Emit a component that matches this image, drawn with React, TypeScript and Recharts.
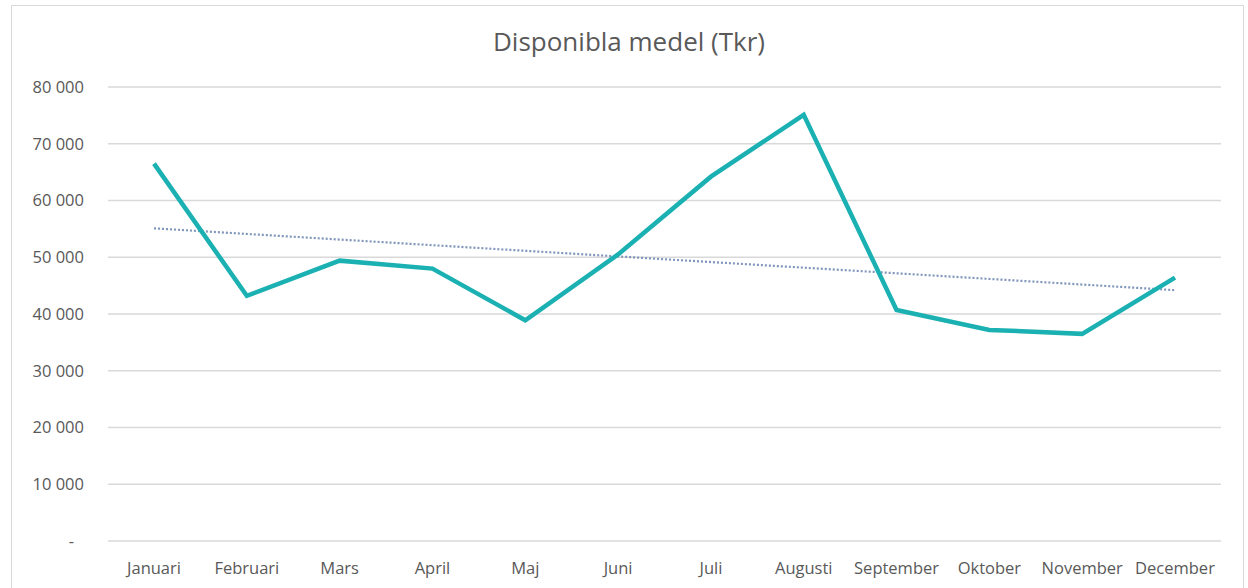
import { LineChart, Line, XAxis, YAxis, CartesianGrid, ReferenceLine } from 'recharts';

const months = [
  'Januari', 'Februari', 'Mars', 'April', 'Maj', 'Juni',
  'Juli', 'Augusti', 'September', 'Oktober', 'November', 'December',
];
const disponibla = [66500, 43200, 49400, 48000, 38900, 50500, 64200, 75100, 40700, 37200, 36500, 46400];
const yTicks = [0, 10000, 20000, 30000, 40000, 50000, 60000, 70000, 80000];
// trendline end points
const trendStart = 55100;
const trendEnd = 44200;

const data = months.map((m, i) => ({ name: m, value: disponibla[i] }));

const FONT = '"Open Sans", sans-serif';
const TEXT = '#595959';

const fmt = (v: number) => (v === 0 ? '-' : String(v).replace(/\B(?=(\d{3})+(?!\d))/g, ' '));

function YTick(props: any) {
  const { x, y, payload } = props;
  const isZero = payload.value === 0;
  return (
    <text x={isZero ? x - 10 : x} y={y} dy="0.35em" textAnchor="end" fill={TEXT} fontSize={16.5} fontFamily={FONT}>
      {fmt(payload.value)}
    </text>
  );
}

export default function App() {
  return (
    <div style={{ position: 'absolute', left: 0, top: 0, width: 1248, height: 588, background: '#fff', overflow: 'hidden' }}>
      <div style={{ position: 'absolute', left: 11, top: 5, width: 1231, height: 600, border: '1px solid #d9d9d9' }} />
      <div
        style={{
          position: 'absolute', left: 0, top: 23, width: 1258, textAlign: 'center',
          fontFamily: FONT, fontSize: 26, color: TEXT,
        }}
      >
        Disponibla medel (Tkr)
      </div>
      <div style={{ position: 'absolute', left: 0, top: 0 }}>
        <LineChart width={1248} height={588} data={data} margin={{ top: 87, right: 27, left: 10, bottom: 1 }}>
          <CartesianGrid vertical={false} stroke="#d9d9d9" strokeWidth={1.5} />
          <XAxis
            dataKey="name"
            axisLine={false}
            tickLine={false}
            tickMargin={15}
            height={46}
            padding={{ left: 46, right: 46 }}
            interval={0}
            tick={{ fill: TEXT, fontSize: 16.5, fontFamily: FONT }}
          />
          <YAxis
            width={98}
            domain={[0, 80000]}
            ticks={yTicks}
            axisLine={false}
            tickLine={false}
            tickMargin={18}
            tick={<YTick />}
          />
          <ReferenceLine
            segment={[{ x: months[0], y: trendStart }, { x: months[11], y: trendEnd }]}
            stroke="#7f95bb"
            strokeWidth={2.2}
            strokeDasharray="2 2"
          />
          <Line
            type="linear"
            dataKey="value"
            stroke="#1bb1b3"
            strokeWidth={4.5}
            dot={false}
            activeDot={false}
            isAnimationActive={false}
          />
        </LineChart>
      </div>
    </div>
  );
}
